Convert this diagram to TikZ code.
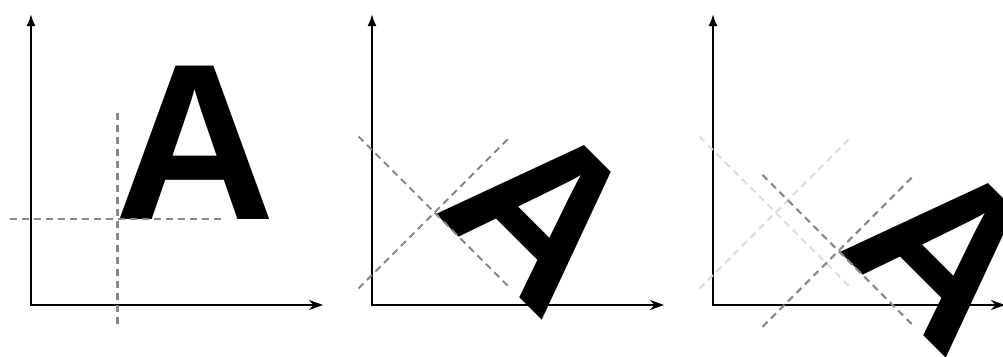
\documentclass[tikz,border=0pt]{standalone}
\usepackage{fontspec}
\newfontfamily\letterfont{Liberation Sans}[BoldFont={Liberation Sans Bold}]
\usetikzlibrary{arrows.meta}
\definecolor{guidegray}{HTML}{888888}
\definecolor{ghostgray}{HTML}{DDDDDD}
\begin{document}
\begin{tikzpicture}[x=1pt,y=-1pt,
  axis/.style={line width=2.1pt, black, arrows={Latex[length=12pt,width=9pt]-Stealth[length=14pt,width=10pt,inset=4.5pt]}},
  guide/.style={line width=2.1pt, dash pattern=on 7pt off 5pt, guidegray},
  ghost/.style={guide, ghostgray},
  letter/.style={inner sep=0pt, outer sep=0pt, anchor=base west, font=\letterfont\bfseries\fontsize{223}{223}\selectfont}
]
\useasboundingbox (0,0) rectangle (1003,356);
\clip (0,0) rectangle (1003,356);
% panel 1
\coordinate (o1) at (31,305);
\coordinate (p1) at (117.5,219);
\draw[axis] (31,14) |- (323,305);
\node[letter] (A1) at (p1) {\kern-3.5pt A};
\draw[guide] (10,219) -- (225,219);
\draw[guide] (117.5,113) -- (117.5,326);
% panel 2
\begin{scope}[shift={(341,0)}]
\coordinate (p2) at (93.5,212.5);
\draw[axis] (31,14) |- (323,305);
\node[letter, rotate=-45] (A2) at (p2) {\kern-3.5pt A};
\draw[guide] ([shift={(-76,-76)}]p2) -- ([shift={(76,76)}]p2);
\draw[guide] ([shift={(-76,76)}]p2) -- ([shift={(76,-76)}]p2);
\end{scope}
% panel 3
\begin{scope}[shift={(682,0)}]
\coordinate (p3a) at (93.5,212.5);
\coordinate (p3) at (156.5,250.8);
\draw[axis] (31,14) |- (323,305);
\draw[ghost] ([shift={(-76,-76)}]p3a) -- ([shift={(76,76)}]p3a);
\draw[ghost] ([shift={(-76,76)}]p3a) -- ([shift={(76,-76)}]p3a);
\node[letter, rotate=-45] (A3) at (p3) {\kern-3.5pt A};
\draw[guide] ([shift={(-76,-76)}]p3) -- ([shift={(76,76)}]p3);
\draw[guide] ([shift={(-76,76)}]p3) -- ([shift={(76,-76)}]p3);
\end{scope}
\end{tikzpicture}
\end{document}
